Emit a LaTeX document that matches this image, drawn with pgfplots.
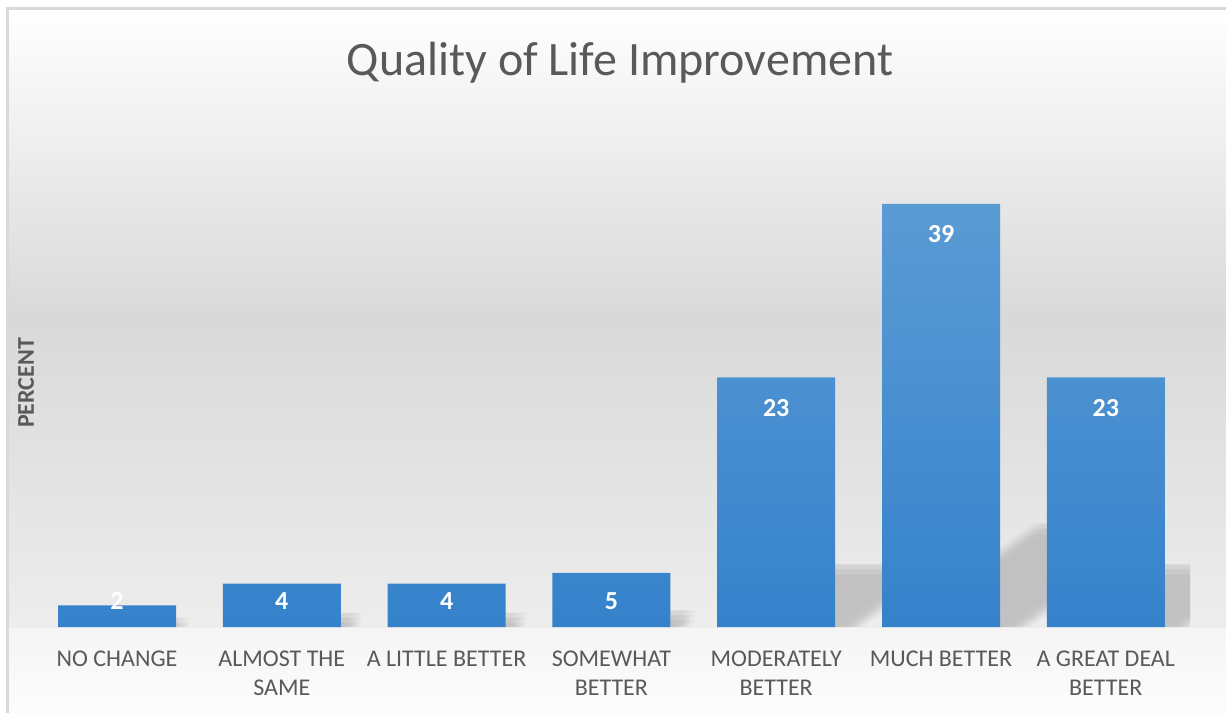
\documentclass[border=0pt]{standalone}
\usepackage{fontspec}
\setmainfont{Carlito}
\usepackage{pgfplots}
\pgfplotsset{compat=1.18}

\definecolor{txtgray}{HTML}{595959}
\definecolor{bordergray}{HTML}{D9D9D9}
\definecolor{barTop}{HTML}{5B9BD5}
\definecolor{barBot}{HTML}{3582CB}
\definecolor{shadowgray}{HTML}{B8B8B8}

% values and where their labels sit
\pgfplotstableread{
x  y   ly    label
0  2   2.4   2
1  4   2.4   4
2  4   2.4   4
3  5   2.4   5
4  23  20.2  23
5  39  36.2  39
6  23  20.2  23
}\qoldata

\begin{document}
\begin{tikzpicture}
\useasboundingbox (0,0) rectangle (613pt,-356.5pt);
\begin{scope}[x=0.5pt,y=-0.5pt]
  \clip (0,0) rectangle (1226,713);
  % wall and floor
  \shade[top color=white, bottom color=black!7, middle color=black!15]
    (8,8) rectangle (1226,628);
  \shade[top color=black!4, bottom color=black!1]
    (8,628) rectangle (1226,713);
  % perspective shadows behind the bars, blurred by stacking offset copies
  \begin{scope}
    \clip (8,8) rectangle (1190,626);
    \foreach \xl/\dx/\dy in {58/8/5.1, 223/16.1/10.2, 387.6/16.1/10.2,
        552.4/20.1/12.7, 717.2/92.4/58.7, 882/156.6/99.5, 1046.8/92.4/58.7}{
      \foreach \ox in {-5,0,5}{
        \foreach \oy in {-5,0,5}{
          \fill[shadowgray, fill opacity=0.15, shift={(\ox,\oy)}]
            (\xl,640) -- (\xl+118,640) -- (\xl+118+\dx,628-\dy)
            -- (\xl+\dx,628-\dy) -- cycle;
        }
      }
    }
  \end{scope}
  \draw[bordergray, line width=1.2pt] (7.5,713) -- (7.5,8.5) -- (1226,8.5);
  \node[txtgray, font=\fontsize{24}{28}\selectfont] at (620,63)
    {Quality of Life Improvement};
  \node[txtgray, font=\fontsize{12}{14}\selectfont\bfseries, rotate=90]
    at (26,383) {PERCENT};
\end{scope}

\begin{axis}[
    at={(17.3pt,-313.5pt)}, anchor=south west,
    scale only axis, width=576.8pt, height=244.125pt,
    xmin=-0.5, xmax=6.5, ymin=0, ymax=45,
    axis line style={draw=none},
    ytick=\empty,
    xtick={0,...,6},
    xticklabels={NO CHANGE, ALMOST THE\\SAME, A LITTLE BETTER,
      SOMEWHAT\\BETTER, MODERATELY\\BETTER, MUCH BETTER, A GREAT DEAL\\BETTER},
    major tick length=0pt,
    xticklabel style={font=\fontsize{12}{14.5}\selectfont, text=txtgray,
      align=center, anchor=north, yshift=-8.5pt},
    clip=false,
]
\addplot[ybar, bar width=59pt, draw=none,
    top color=barTop, bottom color=barBot]
    table[x=x, y=y] {\qoldata};
\addplot[draw=none, mark=none, nodes near coords,
    point meta=explicit symbolic,
    nodes near coords style={anchor=center, text=white,
      font=\fontsize{13}{15}\selectfont\bfseries}]
    table[x=x, y=ly, meta=label] {\qoldata};
\end{axis}
\end{tikzpicture}
\end{document}
